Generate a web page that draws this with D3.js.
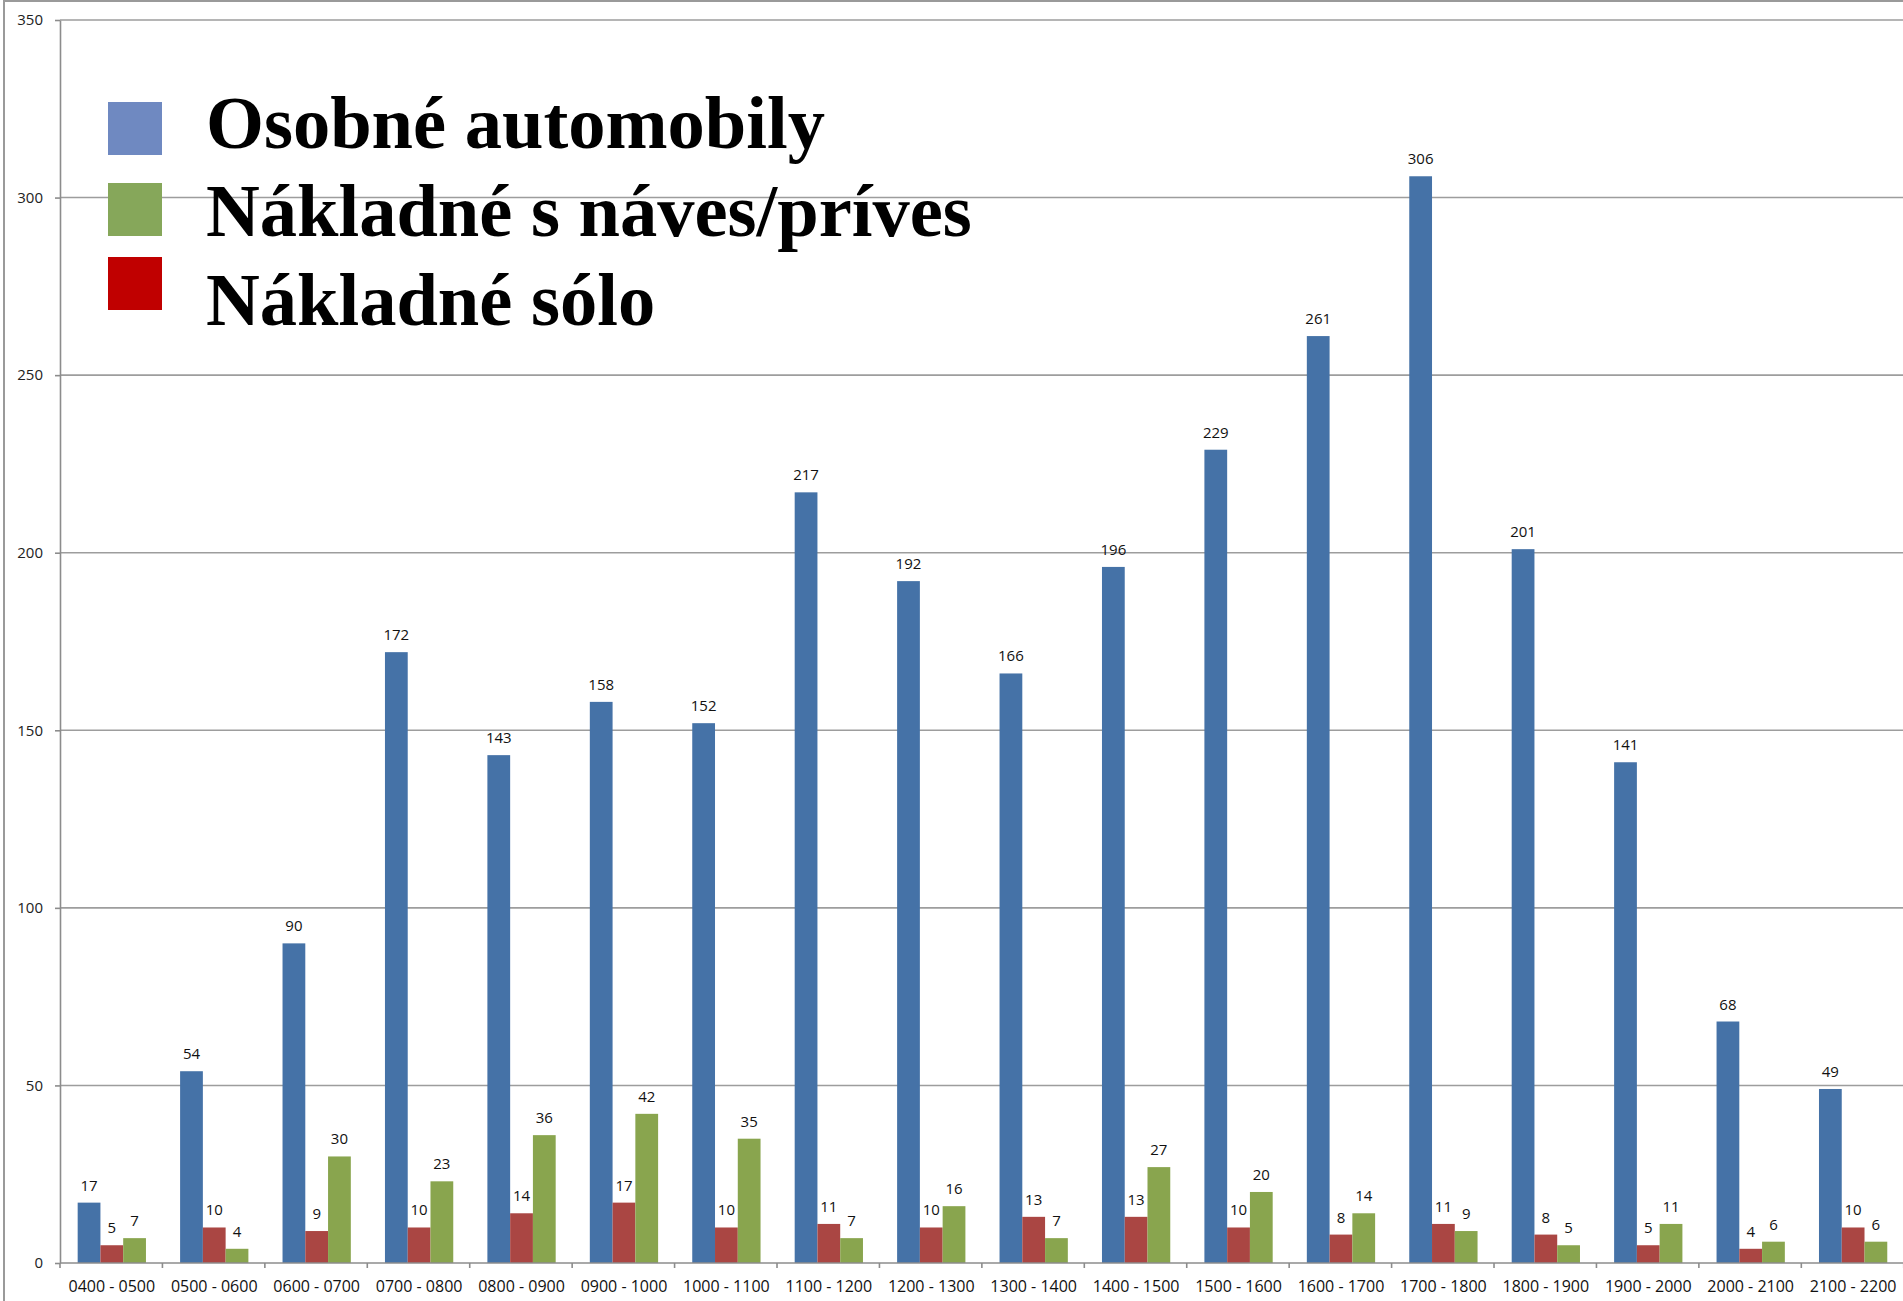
<!DOCTYPE html>
<html>
<head>
<meta charset="utf-8">
<script src="https://cdn.jsdelivr.net/npm/d3@7"></script>
<style>
  html, body { margin: 0; padding: 0; background: #fff; overflow: hidden; }
  svg { display: block; }
</style>
</head>
<body>
<svg id="chart" width="1903" height="1301"></svg>
<script>
const categories = ["0400 - 0500","0500 - 0600","0600 - 0700","0700 - 0800","0800 - 0900","0900 - 1000","1000 - 1100","1100 - 1200","1200 - 1300","1300 - 1400","1400 - 1500","1500 - 1600","1600 - 1700","1700 - 1800","1800 - 1900","1900 - 2000","2000 - 2100","2100 - 2200"];
const osobne = [17, 54, 90, 172, 143, 158, 152, 217, 192, 166, 196, 229, 261, 306, 201, 141, 68, 49];
const soloValues = [5, 10, 9, 10, 14, 17, 10, 11, 10, 13, 13, 10, 8, 11, 8, 5, 4, 10];
const navesValues = [7, 4, 30, 23, 36, 42, 35, 7, 16, 7, 27, 20, 14, 9, 5, 11, 6, 6];
const yTicks = [0, 50, 100, 150, 200, 250, 300, 350];
const seriesNames = ["Osobné automobily", "Nákladné sólo", "Nákladné s náves/príves"];
const legendOrder = ["Osobné automobily", "Nákladné s náves/príves", "Nákladné sólo"];

const barColors = {"Osobné automobily": "#4572a7", "Nákladné sólo": "#aa4643", "Nákladné s náves/príves": "#89a54e"};
const legendColors = {"Osobné automobily": "#6f89c1", "Nákladné s náves/príves": "#86a75a", "Nákladné sólo": "#c00000"};

const series = [
  {name: seriesNames[0], values: osobne},
  {name: seriesNames[1], values: soloValues},
  {name: seriesNames[2], values: navesValues}
];

const svg = d3.select("#chart");
const plotLeft = 60, bandW = 102.43, plotTop = 20, plotBottom = 1263;
const x = d3.scaleBand().domain(categories).range([plotLeft + 0.6, plotLeft + 0.6 + bandW * categories.length]).padding(0);
const bw = x.bandwidth() / 4.5;
const x1 = d3.scaleBand().domain(seriesNames).range([bw * 0.75, bw * 3.75]).padding(0);
const y = d3.scaleLinear().domain([0, 350]).range([plotBottom, plotTop]);

// outer border
svg.append("rect").attr("x", 4).attr("y", 1).attr("width", 1950).attr("height", 1400)
  .attr("fill", "none").attr("stroke", "#9a9a9a").attr("stroke-width", 2);

// gridlines
svg.append("g").selectAll("line").data(yTicks.filter(d => d > 0)).join("line")
  .attr("x1", plotLeft).attr("x2", 1903)
  .attr("y1", d => y(d)).attr("y2", d => y(d))
  .attr("stroke", "#9d9d9d").attr("stroke-width", 1.6);

// y axis
const yAxis = svg.append("g").attr("transform", `translate(${plotLeft},0)`)
  .call(d3.axisLeft(y).tickValues(yTicks).tickSize(5).tickPadding(12).tickSizeOuter(0));
yAxis.select(".domain").attr("stroke", "#8c8c8c").attr("stroke-width", 1.6);
yAxis.selectAll(".tick line").attr("stroke", "#8c8c8c").attr("stroke-width", 1.6);
yAxis.selectAll("text").attr("font-family", "'Open Sans', sans-serif").attr("font-size", 15).attr("fill", "#222");

// bars
const groups = svg.append("g").selectAll("g").data(categories).join("g")
  .attr("transform", d => `translate(${x(d)},0)`);
groups.selectAll("rect").data((c, i) => series.map(s => ({name: s.name, v: s.values[i]}))).join("rect")
  .attr("x", d => x1(d.name)).attr("width", x1.bandwidth())
  .attr("y", d => y(d.v)).attr("height", d => y(0) - y(d.v))
  .attr("fill", d => barColors[d.name]);
groups.selectAll("text").data((c, i) => series.map(s => ({name: s.name, v: s.values[i]}))).join("text")
  .attr("x", d => x1(d.name) + x1.bandwidth() / 2)
  .attr("y", d => y(d.v) - 12)
  .attr("text-anchor", "middle")
  .attr("font-family", "'Open Sans', sans-serif").attr("font-size", 15).attr("fill", "#111")
  .text(d => d.v);

// x axis
const xAxis = svg.append("g").attr("transform", `translate(0,${plotBottom})`)
  .call(d3.axisBottom(x).tickSize(0).tickPadding(18));
xAxis.select(".domain").remove();
xAxis.selectAll("text").attr("font-family", "'Open Sans', sans-serif").attr("font-size", 16).attr("fill", "#111");
svg.append("line").attr("x1", plotLeft).attr("x2", 1903).attr("y1", plotBottom).attr("y2", plotBottom)
  .attr("stroke", "#8c8c8c").attr("stroke-width", 1.6);
svg.append("g").selectAll("line").data(d3.range(categories.length + 1)).join("line")
  .attr("x1", i => plotLeft + i * x.step()).attr("x2", i => plotLeft + i * x.step())
  .attr("y1", plotBottom).attr("y2", plotBottom + 5)
  .attr("stroke", "#8c8c8c").attr("stroke-width", 1.6);

// legend
const legendSquares = [102, 183, 257];
const legendBaselines = [148, 236, 325];
const lg = svg.append("g");
legendOrder.forEach((name, i) => {
  lg.append("rect").attr("x", 108).attr("y", legendSquares[i]).attr("width", 54).attr("height", 53)
    .attr("fill", legendColors[name]);
  lg.append("text").attr("x", 206).attr("y", legendBaselines[i])
    .attr("font-family", "'Liberation Serif', 'Times New Roman', serif").attr("font-weight", "bold")
    .attr("font-size", 74.5).attr("fill", "#000").text(name);
});
</script>
</body>
</html>
